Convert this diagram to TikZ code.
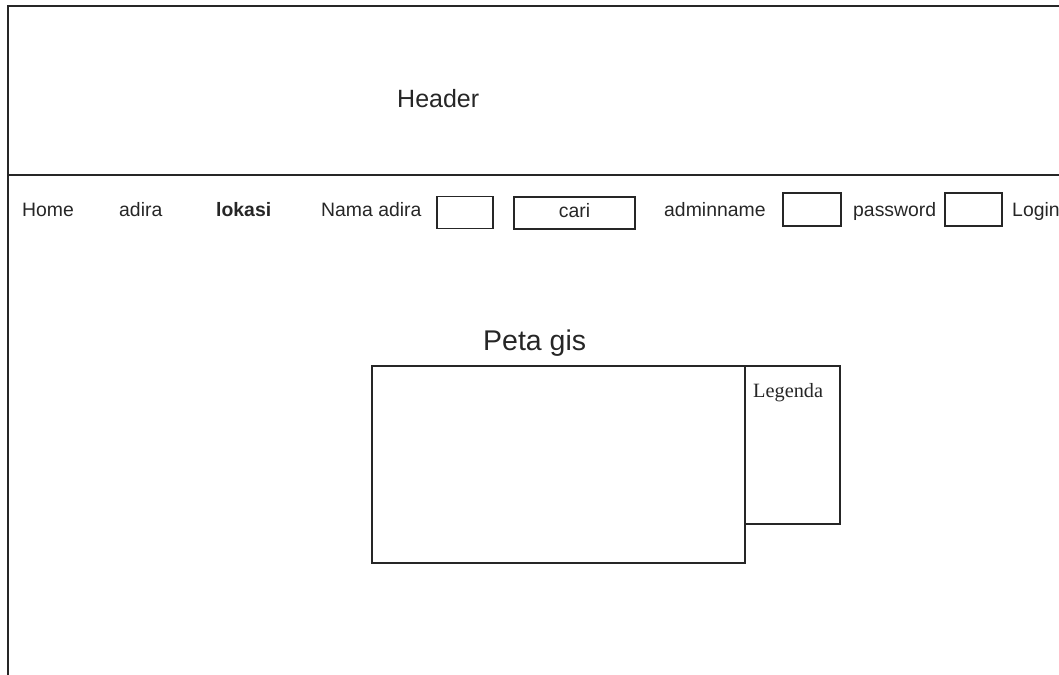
\documentclass[tikz,border=0pt]{standalone}
\usepackage{fontspec}
\setmainfont{Liberation Sans}
\newfontfamily\legfont{Liberation Serif}
\begin{document}
\begin{tikzpicture}[x=1pt,y=-1pt,
  frame/.style={draw=black!85,line width=1.4pt},
  boxline/.style={draw=black!85,line width=1.2pt},
  field/.style={boxline,rectangle,inner sep=0pt},
  lbl/.style={anchor=base west,inner sep=0pt,text=black!85,font=\fontsize{19.4}{22}\selectfont},
]
\useasboundingbox (0,0) rectangle (1059,674);
% outer frame
\coordinate (tl) at (8,6);
\coordinate (tr) at (1062,6);
\coordinate (bl) at (8,677);
\coordinate (hl) at (8,175);
\coordinate (hr) at (1062,175);
\draw[frame] (tr) -- (tl) -- (bl);
\draw[frame] (hl) -- (hr);
\node[lbl,font=\fontsize{25}{28}\selectfont] (header) at (397,107) {Header};
% navigation
\node[lbl] (home) at (22,216) {Home};
\node[lbl] (adira) at (119,216) {adira};
\node[lbl,font=\fontsize{19.4}{22}\selectfont\bfseries] (lokasi) at (216,216) {lokasi};
\node[lbl] (nama) at (321,216) {Nama adira};
\node[field,minimum width=56pt,minimum height=32pt] (namabox) at (465,212.5) {};
\node[field,minimum width=121pt,minimum height=32pt] (caribox) at (574.5,213) {};
\node[lbl,anchor=base] (cari) at (574.5,217) {cari};
\node[lbl] (admin) at (664,216) {adminname};
\node[field,minimum width=58pt,minimum height=33pt] (adminbox) at (812,209.5) {};
\node[lbl] (pass) at (853,216) {password};
\node[field,minimum width=57pt,minimum height=33pt] (passbox) at (973.5,209.5) {};
\node[lbl] (login) at (1012,216) {Login};
% map
\node[lbl,font=\fontsize{28.5}{32}\selectfont] (peta) at (483,350) {Peta gis};
\draw[boxline] (372,366) rectangle (745,563);
\coordinate (map) at (558,465);
\draw[boxline] (745,366) -- (840,366) -- (840,524) -- (745,524);
\node[lbl,font=\legfont\fontsize{20.3}{23}\selectfont] (legenda) at (753,397) {Legenda};
\end{tikzpicture}
\end{document}
